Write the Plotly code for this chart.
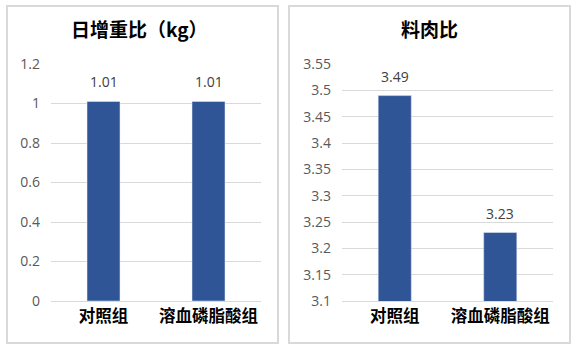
import plotly.graph_objects as go

categories = ["对照组", "溶血磷脂酸组"]
gain_values = [1.01, 1.01]
fcr_values = [3.49, 3.23]
gain_title = "日增重比（kg）"
fcr_title = "料肉比"
gain_ticks = [0, 0.2, 0.4, 0.6, 0.8, 1, 1.2]
fcr_ticks = [3.1, 3.15, 3.2, 3.25, 3.3, 3.35, 3.4, 3.45, 3.5, 3.55]

W, H = 580, 352
BAR = "#2F5597"
GRID = "#D9D9D9"
NUM_FONT = "Open Sans"
CJK_FONT = "Noto Sans CJK SC"

def px(x):
    return x / W

def py(y):
    return 1 - y / H

fig = go.Figure()
fig.add_trace(go.Bar(x=categories, y=gain_values, marker_color=BAR, xaxis="x", yaxis="y",
                     hoverinfo="skip"))
fig.add_trace(go.Bar(x=categories, y=fcr_values, marker_color=BAR, xaxis="x2", yaxis="y2",
                     hoverinfo="skip"))

ann = []
for c, v in zip(categories, gain_values):
    ann.append(dict(x=c, y=v, xref="x", yref="y", text=f"{v:.2f}", showarrow=False,
                    yanchor="middle", yshift=20,
                    font=dict(family=NUM_FONT, size=14, color="#404040")))
for c, v in zip(categories, fcr_values):
    ann.append(dict(x=c, y=v, xref="x2", yref="y2", text=f"{v:.2f}", showarrow=False,
                    yanchor="middle", yshift=19,
                    font=dict(family=NUM_FONT, size=14, color="#404040")))
ann.append(dict(x=px(139), y=py(28), xref="paper", yref="paper", text=f"<b>{gain_title}</b>",
                showarrow=False, xanchor="center", yanchor="middle",
                font=dict(family=CJK_FONT, size=19, color="#000000")))
ann.append(dict(x=px(429), y=py(28), xref="paper", yref="paper", text=f"<b>{fcr_title}</b>",
                showarrow=False, xanchor="center", yanchor="middle",
                font=dict(family=CJK_FONT, size=19, color="#000000")))

shapes = [
    dict(type="rect", xref="paper", yref="paper", x0=px(7), x1=px(278), y0=py(343), y1=py(6),
         line=dict(color=GRID, width=2), layer="below"),
    dict(type="rect", xref="paper", yref="paper", x0=px(289), x1=px(570), y0=py(343), y1=py(6),
         line=dict(color=GRID, width=2), layer="below"),
]

ydom = [py(301), py(64)]
xfont = dict(family=CJK_FONT, size=16.5, color="#000000", weight="bold")
yfont = dict(family=NUM_FONT, size=14, color="#595959")

fig.update_layout(
    width=W, height=H,
    margin=dict(l=0, r=0, t=0, b=0, autoexpand=False),
    paper_bgcolor="white", plot_bgcolor="white",
    showlegend=False,
    bargap=0.686,
    annotations=ann,
    shapes=shapes,
    xaxis=dict(domain=[px(51), px(261)], anchor="y", showgrid=False, showline=True,
               linecolor=GRID, linewidth=1, tickfont=xfont, ticks="", fixedrange=True,
               automargin=False),
    yaxis=dict(domain=ydom, anchor="x", range=[0, 1.2], tickvals=gain_ticks,
               ticktext=[f"{t:g}" for t in gain_ticks], showgrid=True, gridcolor=GRID,
               gridwidth=1, zeroline=False, showline=False, tickfont=yfont, ticks="",
               ticklabelstandoff=10, fixedrange=True, automargin=False),
    xaxis2=dict(domain=[px(342), px(553)], anchor="y2", showgrid=False, showline=True,
                linecolor=GRID, linewidth=1, tickfont=xfont, ticks="", fixedrange=True,
                automargin=False),
    yaxis2=dict(domain=ydom, anchor="x2", range=[3.1, 3.55], tickvals=fcr_ticks,
                ticktext=[f"{t:g}" for t in fcr_ticks], showgrid=True, gridcolor=GRID,
                gridwidth=1, zeroline=False, showline=False, tickfont=yfont, ticks="",
                ticklabelstandoff=10, fixedrange=True, automargin=False),
)

fig.write_html("out.html", config={"displayModeBar": False})
